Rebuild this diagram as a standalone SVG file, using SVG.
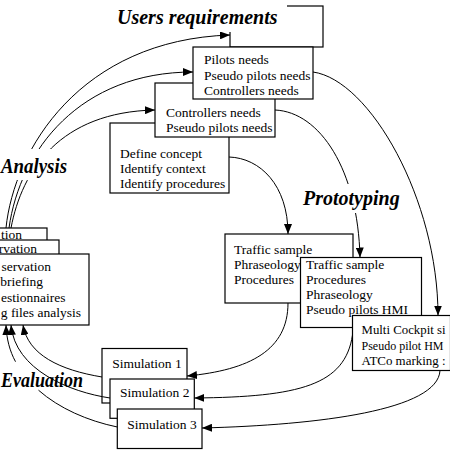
<svg xmlns="http://www.w3.org/2000/svg" width="450" height="450" viewBox="0 0 450 450">
<defs>
<style>
.box{fill:#fff;stroke:#000;stroke-width:1.2}
.t{font-family:"Liberation Serif","Times New Roman",serif;font-size:13.5px;fill:#000}
.h{font-family:"Liberation Serif","Times New Roman",serif;font-size:20px;font-weight:bold;font-style:italic;fill:#000}
.c{fill:none;stroke:#000;stroke-width:1}
.bg{fill:#fff;stroke:none}
</style>
<marker id="ah" viewBox="0 0 10 8" refX="10" refY="4" markerWidth="10" markerHeight="8" markerUnits="userSpaceOnUse" orient="auto">
<path d="M0,0 L10,4 L0,8 z" fill="#000"/>
</marker>
</defs>
<rect width="450" height="450" fill="#fff"/>

<!-- Users requirements boxes -->
<g id="req-back"><rect class="box" x="230" y="6" width="93" height="41"/></g>
<g id="define"><rect class="box" x="110" y="123" width="119" height="70"/>
<text class="t" x="120" y="158">Define concept</text>
<text class="t" x="120" y="173">Identify context</text>
<text class="t" x="120" y="187.5">Identify procedures</text></g>
<g id="controllers"><rect class="box" x="155" y="83" width="120" height="54"/>
<text class="t" x="166" y="117">Controllers needs</text>
<text class="t" x="166" y="132">Pseudo pilots needs</text></g>
<g id="pilots"><rect class="box" x="193" y="47" width="120" height="52"/>
<text class="t" x="204" y="64">Pilots needs</text>
<text class="t" x="204" y="79.5">Pseudo pilots needs</text>
<text class="t" x="204" y="95">Controllers needs</text></g>

<!-- Analysis boxes -->
<g id="analysis1"><rect class="box" x="-10" y="228" width="57" height="30"/>
<text class="t" x="22" y="239" text-anchor="end">tion</text></g>
<g id="analysis2"><rect class="box" x="-10" y="240" width="69" height="30"/>
<text class="t" x="37" y="253" text-anchor="end">rvation</text></g>
<g id="analysis3"><rect class="box" x="-10" y="254" width="99" height="71"/>
<text class="t" x="51" y="271" text-anchor="end">servation</text>
<text class="t" x="43" y="286" text-anchor="end">briefing</text>
<text class="t" x="65.5" y="301.5" text-anchor="end">estionnaires</text>
<text class="t" x="81" y="317" text-anchor="end">g files analysis</text></g>

<!-- Prototyping boxes -->
<g id="proto1"><rect class="box" x="225" y="234" width="128" height="69"/>
<text class="t" x="234" y="253.5">Traffic sample</text>
<text class="t" x="234" y="268.8">Phraseology</text>
<text class="t" x="234" y="284">Procedures</text></g>
<g id="proto2"><rect class="box" x="300.5" y="257.5" width="121" height="70"/>
<text class="t" x="306" y="268.8">Traffic sample</text>
<text class="t" x="306" y="284">Procedures</text>
<text class="t" x="306" y="299.3">Phraseology</text>
<text class="t" x="306" y="314">Pseudo pilots HMI</text></g>
<g id="proto3"><rect class="box" x="352.5" y="315.5" width="98" height="55"/>
<text class="t" x="361.5" y="334" textLength="84" lengthAdjust="spacingAndGlyphs">Multi Cockpit si</text>
<text class="t" x="361.5" y="349.5" textLength="82" lengthAdjust="spacingAndGlyphs">Pseudo pilot HM</text>
<text class="t" x="361.5" y="365" textLength="84" lengthAdjust="spacingAndGlyphs">ATCo marking :</text></g>

<!-- Simulation boxes -->
<g id="sim1"><rect class="box" x="102" y="348.5" width="85" height="54.5"/>
<text class="t" x="112.3" y="368">Simulation 1</text></g>
<g id="sim2"><rect class="box" x="110" y="379" width="84.3" height="39.3"/>
<text class="t" x="120" y="397.3">Simulation 2</text></g>
<g id="sim3"><rect class="box" x="117.3" y="409" width="84.7" height="39.5"/>
<text class="t" x="127.3" y="429">Simulation 3</text></g>

<!-- connectors -->
<g id="connectors">
<path class="c" d="M6 228 C14 150 80 40 230 35" marker-end="url(#ah)"/>
<path class="c" d="M9 228 C20 150 80 72 193 72" marker-end="url(#ah)"/>
<path class="c" d="M11 228 C22 170 60 112 155 110" marker-end="url(#ah)"/>
<path class="c" d="M229 157 C260 158 288 185 288 234" marker-end="url(#ah)"/>
<path class="c" d="M275 110 C320 112 358 170 360 257.5" marker-end="url(#ah)"/>
<path class="c" d="M313 72 C370 80 438 200 438 315.5" marker-end="url(#ah)"/>
<path class="c" d="M288 303 C288 350 250 370 187 376" marker-end="url(#ah)"/>
<path class="c" d="M352.5 335 C345 385 300 397 194.3 398" marker-end="url(#ah)"/>
<path class="c" d="M440 370.5 C438 410 320 425 202 428" marker-end="url(#ah)"/>
<path class="c" d="M102 377 C60 370 28 355 23 325" marker-end="url(#ah)"/>
<path class="c" d="M110 398 C70 392 15 370 11 325" marker-end="url(#ah)"/>
<path class="c" d="M117.3 427 C87.4 420.8 59.1 408.3 38.5 390.2"/>
<path class="c" d="M15.5 361.7 C9.84 351.2 6.48 339 6 325" marker-end="url(#ah)"/>
</g>

<!-- phase titles -->
<g id="title-users"><rect class="bg" x="112" y="0" width="175" height="32"/>
<text class="h" x="117" y="23.5">Users requirements</text></g>
<g id="title-analysis"><rect class="bg" x="0" y="149" width="70" height="31"/>
<text class="h" x="1" y="173" textLength="66" lengthAdjust="spacingAndGlyphs">Analysis</text></g>
<g id="title-proto"><rect class="bg" x="300" y="184" width="104" height="29"/>
<text class="h" x="303" y="204.5">Prototyping</text></g>
<g id="title-eval"><text class="h" x="1" y="387" textLength="82" lengthAdjust="spacingAndGlyphs">Evaluation</text></g>
</svg>
